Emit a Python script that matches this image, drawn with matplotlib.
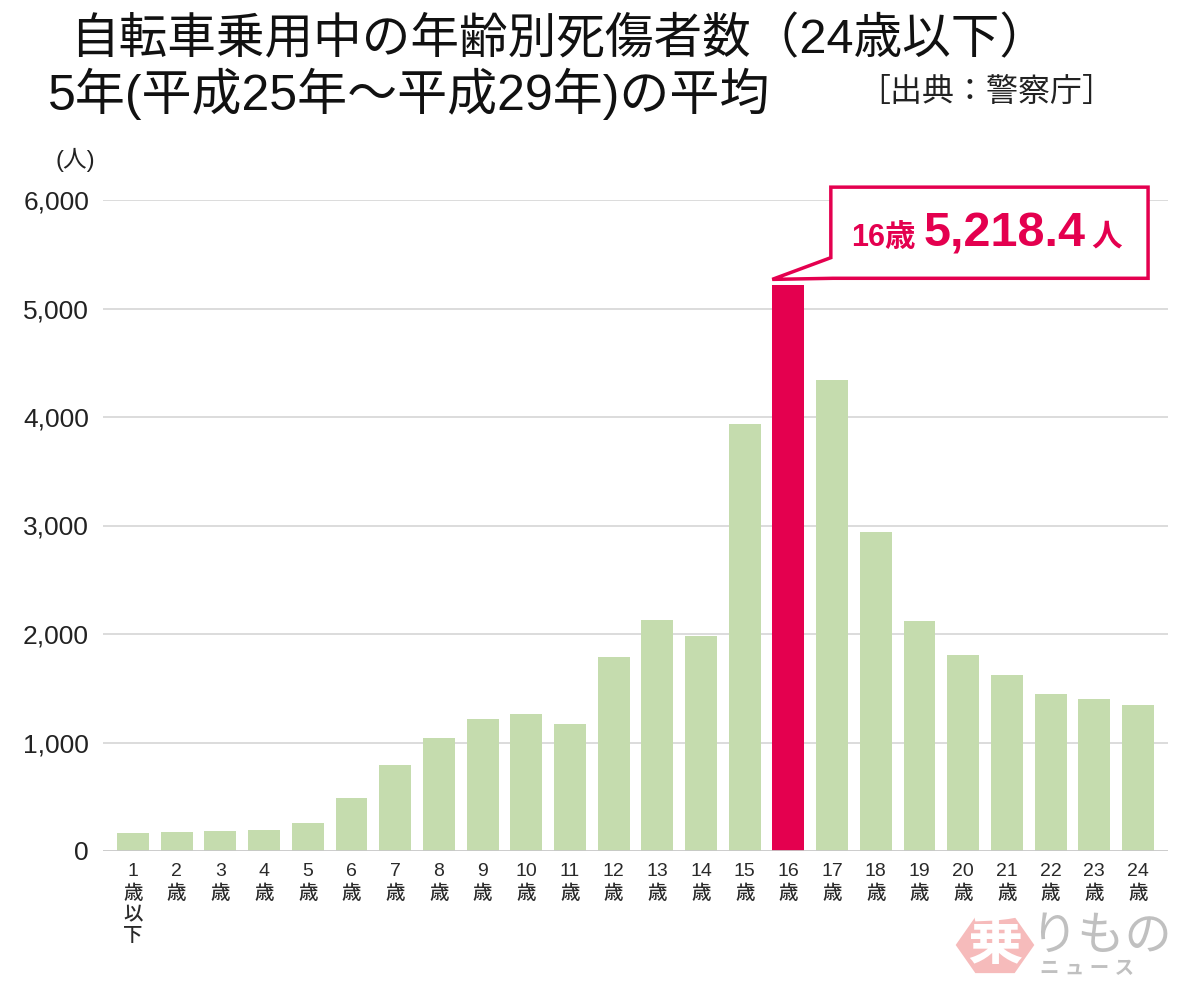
import numpy as np
import matplotlib.pyplot as plt
from matplotlib.patches import Polygon, RegularPolygon

plt.rcParams['font.family'] = ['Liberation Sans', 'Noto Sans CJK JP', 'DejaVu Sans']

# 年齢別 死傷者数（5年平均）
ages = ['1\n歳\n以\n下'] + [f'{a}\n歳' for a in range(2, 25)]
counts = [166, 175, 184, 194, 258, 488, 793, 1041, 1217, 1263, 1170, 1788,
          2129, 1982, 3935, 5218.4, 4341, 2940, 2120, 1806, 1622, 1447, 1401, 1346]
yticks = [0, 1000, 2000, 3000, 4000, 5000, 6000]
peak = 15  # 16歳

green = '#c5dcae'
red = '#e4004f'

fig = plt.figure(figsize=(11.92, 9.84), dpi=100)
ax = fig.add_axes([103/1192, 1 - 851/984, (1168-103)/1192, (851-200)/984])

x = np.arange(len(counts))
colors = [red if i == peak else green for i in x]
ax.bar(x, counts, width=0.73, color=colors, zorder=2)

ax.set_xlim(-0.686, len(counts) - 1 + 0.686)
ax.set_ylim(0, 6000)
ax.set_yticks(yticks)
ax.set_yticklabels([f'{v:,}' for v in yticks], fontsize=19, color='#222222')
ax.set_xticks(x)
ax.set_xticklabels(ages, fontsize=14, color='#2a2a2a', linespacing=1.3, va='top',
                   weight='medium')
ax.tick_params(axis='both', length=0)
ax.tick_params(axis='y', pad=10)
ax.tick_params(axis='x', pad=9)
for s in ax.spines.values():
    s.set_visible(False)
for v in yticks[1:]:
    ax.axhline(v, color='#d6d6d6', lw=1.2, zorder=1)
ax.axhline(0, color='#c8c8c8', lw=2, zorder=3)

# 吹き出し
tip_x = peak - 0.37
tip_y = counts[peak] + 50
bx0, bx1 = peak + 0.97, peak + 8.23
by0, by1 = counts[peak] + 60, counts[peak] + 900
tail = [(tip_x, tip_y), (bx0, counts[peak] + 250), (bx0, by1), (bx1, by1),
        (bx1, by0), (bx0 + 0.05, by0)]
ax.add_patch(Polygon(tail, closed=True, fc='white', ec=red, lw=2.5,
                     clip_on=False, zorder=5, joinstyle='miter'))
fig.text(851/1192, 1 - 246/984, '16歳', color=red, fontsize=22, weight='bold', va='baseline')
fig.text(924/1192, 1 - 247/984, '5,218.4', color=red, fontsize=35, weight='bold', va='baseline')
fig.text(1091/1192, 1 - 246/984, '人', color=red, fontsize=22, weight='bold', va='baseline')

# タイトル
fig.text(70/1192, 1 - 40/984, '自転車乗用中の年齢別死傷者数（24歳以下）', fontsize=35,
         ha='left', va='center', color='#111111')
fig.text(48/1192, 1 - 94/984, '5年(平成25年〜平成29年)の平均', fontsize=36,
         ha='left', va='center', color='#111111')
fig.text(858/1192, 1 - 93/984, '［出典：警察庁］', fontsize=23,
         ha='left', va='center', color='#222222')
fig.text(95/1192, 1 - 160/984, '(人)', fontsize=17, ha='right', va='center', color='#222222')

# ロゴ
fig.patches.append(RegularPolygon((995/1192, 1 - 945/984), 6, radius=0.033,
                                  orientation=np.pi/6, transform=fig.transFigure,
                                  fc='#f5b0b0', ec='none', alpha=0.85))
fig.text(995/1192, 1 - 945/984, '乗', fontsize=40, color='white', ha='center', va='center', weight='bold')
fig.text(1030/1192, 1 - 938/984, 'りもの', fontsize=34, color='#c0c0c0', ha='left', va='center')
fig.text(1040/1192, 1 - 970/984, 'ニ ュ ー ス', fontsize=14, color='#c0c0c0', ha='left', va='center', weight='bold')

fig.savefig('out.png', dpi=100, facecolor='white')
